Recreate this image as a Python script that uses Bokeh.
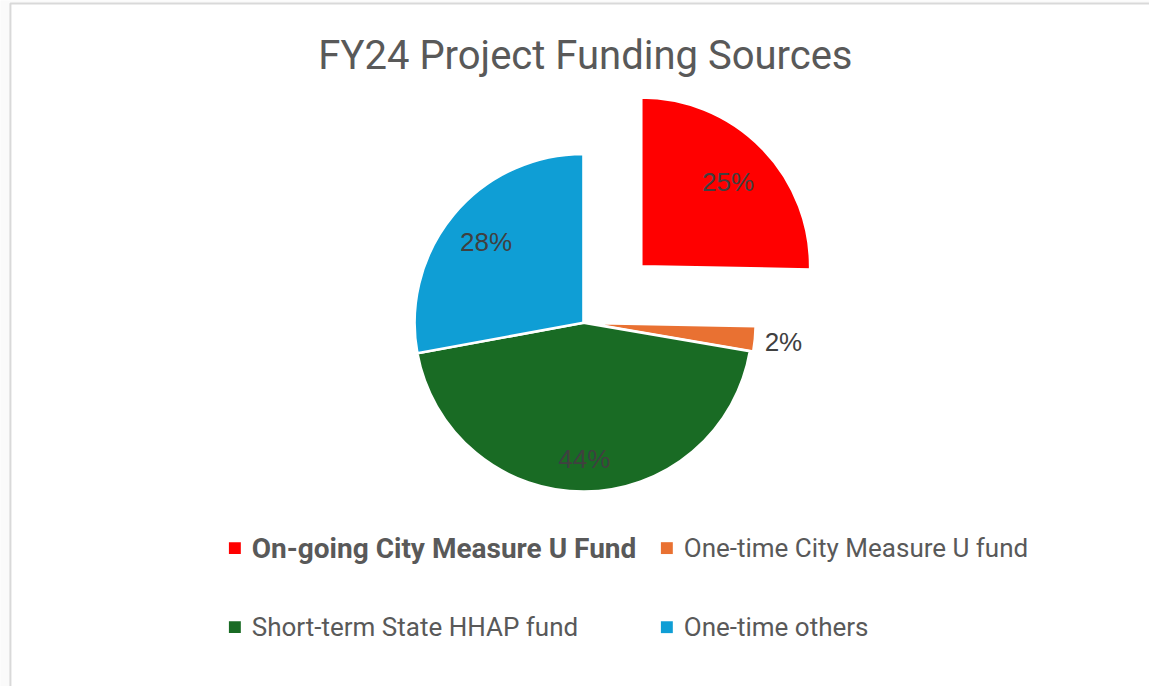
import numpy as np
from bokeh.plotting import figure
from bokeh.models import Range1d
from bokeh.core.properties import value
from bokeh.embed import file_html
from bokeh.resources import INLINE

# ---- data ----
title_text = "FY24 Project Funding Sources"
categories = ["On-going City Measure U Fund", "One-time City Measure U fund",
              "Short-term State HHAP fund", "One-time others"]
shares = [25.3, 2.4, 44.4, 27.9]
colors = ["#FF0000", "#E97132", "#196B24", "#0F9ED5"]

# ---- style / layout ----
explode = [0.48, 0.02, 0.0, 0.0]
label_r = [0.72, 1.17, 0.81, 0.75]
legend_bold = [True, False, False, False]
legend_size = ["28px", "26px", "26px", "26px"]

W, H = 1149, 686
p = figure(width=W, height=H, output_backend="svg", toolbar_location=None,
           x_range=Range1d(0, 1157), y_range=Range1d(-694, 0),
           min_border=0)
p.axis.visible = False
p.grid.visible = False
p.outline_line_color = None
p.background_fill_color = "#fafafa"
p.border_fill_color = "#fafafa"

# chart area frame
p.quad(left=[10], right=[1170], top=[-3], bottom=[-710],
       fill_color="white", line_color="#d9d9d9", line_width=2)

cx, cy, R = 587.0, -326.0, 170.0
vals = np.array(shares, dtype=float)
frac = vals / vals.sum()
cum = np.concatenate([[0], np.cumsum(frac)[:-1]])

xs, ys, starts, ends, lx, ly, labels = [], [], [], [], [], [], []
for i in range(len(frac)):
    mid = 2 * np.pi * (cum[i] + frac[i] / 2)      # clockwise from top
    dx, dy = np.sin(mid), np.cos(mid)
    ox = cx + explode[i] * R * dx
    oy = cy + explode[i] * R * dy
    xs.append(ox); ys.append(oy)
    starts.append(np.pi / 2 - 2 * np.pi * (cum[i] + frac[i]))
    ends.append(np.pi / 2 - 2 * np.pi * cum[i])
    lx.append(ox + label_r[i] * R * dx)
    ly.append(oy + label_r[i] * R * dy)
    labels.append(f"{round(shares[i])}%")

p.wedge(x=xs, y=ys, radius=R, start_angle=starts, end_angle=ends,
        fill_color=colors, line_color="white", line_width=2.5)

p.text(x=lx, y=ly, text=labels, text_font=value("Liberation Sans"),
       text_font_size="26px", text_color="#404040",
       text_align="center", text_baseline="middle")

# title
p.text(x=[589], y=[-56], text=[title_text], text_font=value("Roboto"),
       text_font_size="40px", text_color="#595959",
       text_align="center", text_baseline="middle")

# legend
col_x = [236, 671]
row_y = [554, 634]
for i, name in enumerate(categories):
    sx = col_x[i % 2]
    sy = row_y[i // 2]
    p.rect(x=[sx], y=[-sy], width=12, height=12, fill_color=colors[i],
           line_color=None)
    p.text(x=[sx + 17], y=[-sy], text=[name],
           text_font=value("Roboto"), text_font_size=legend_size[i],
           text_font_style="bold" if legend_bold[i] else "normal",
           text_color="#595959", text_align="left",
           text_baseline="middle")

open("out.html", "w").write(file_html(p, INLINE))
